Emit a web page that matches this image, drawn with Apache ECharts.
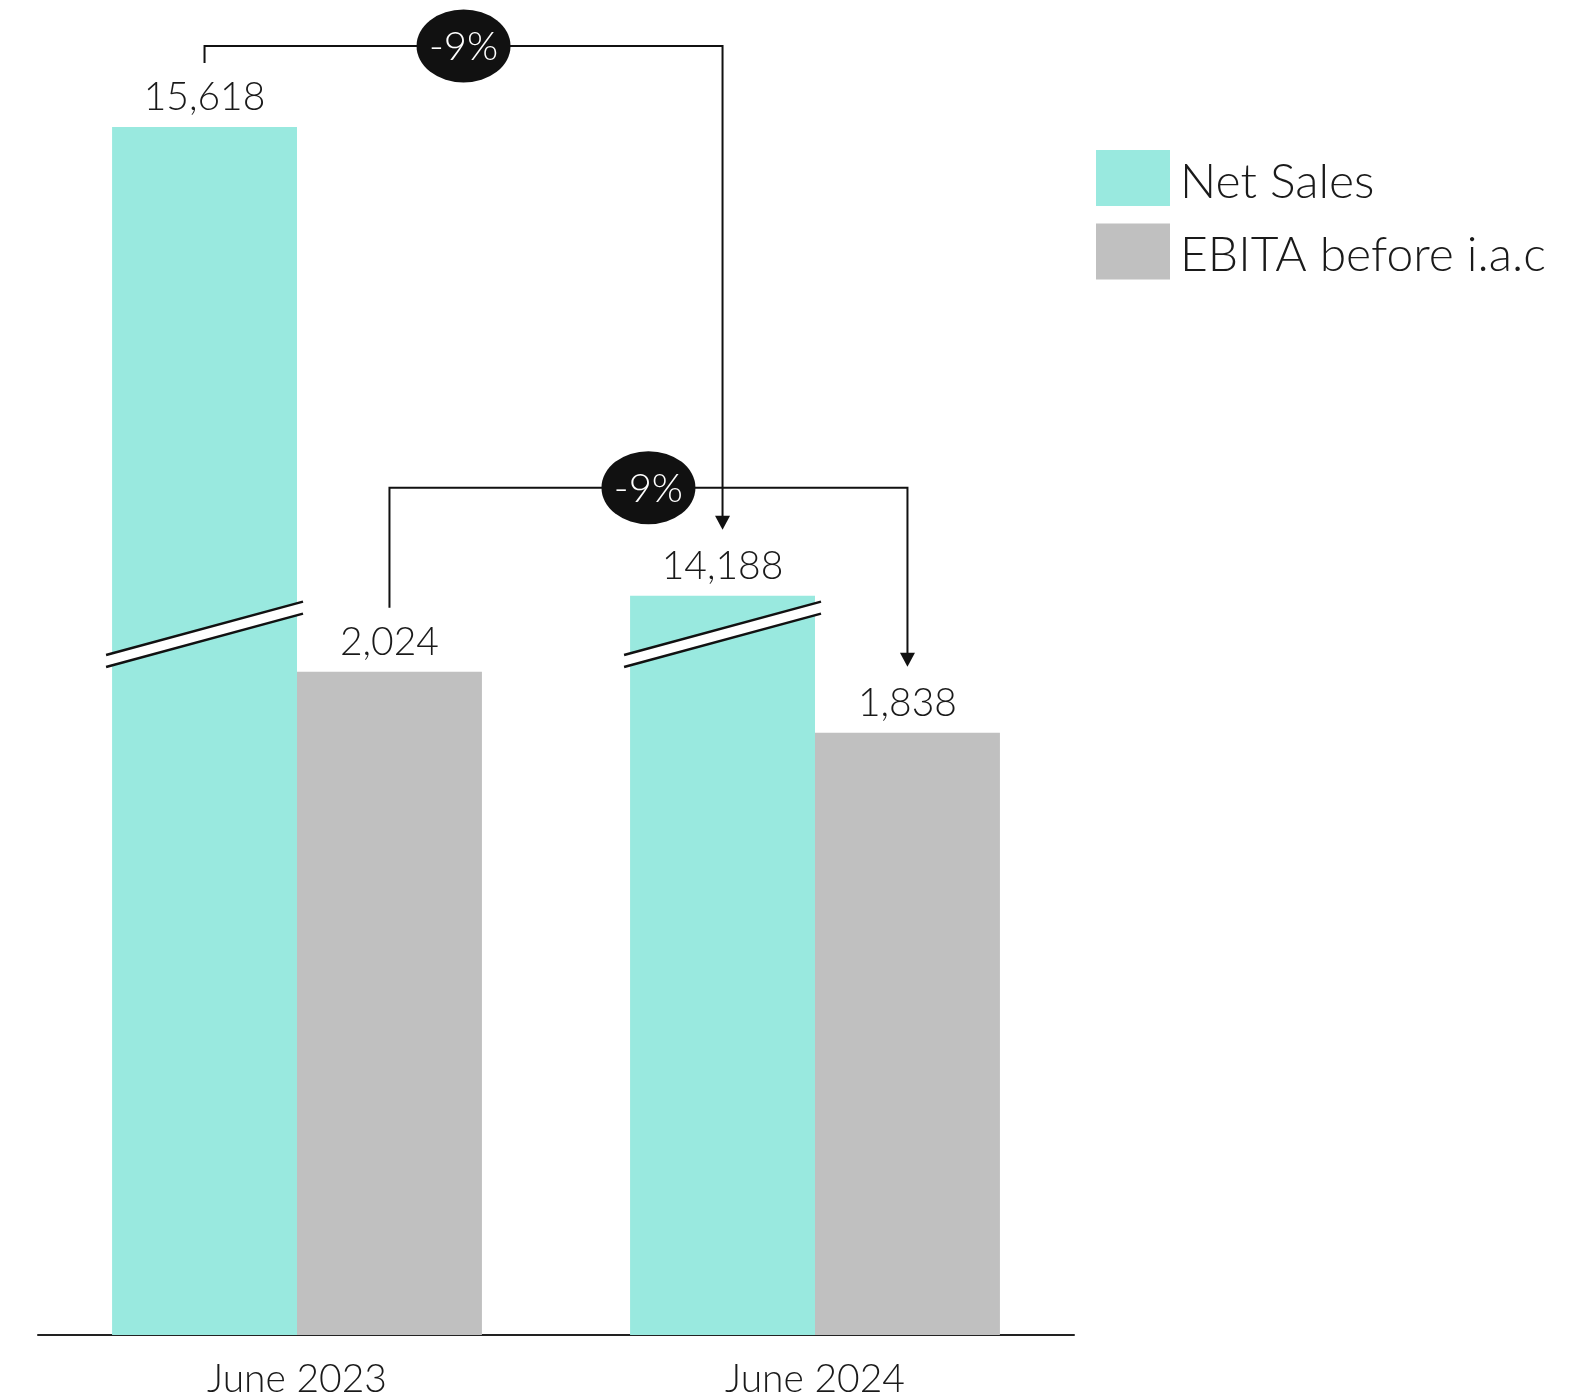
<!DOCTYPE html>
<html><head><meta charset="utf-8">
<script src="https://cdn.jsdelivr.net/npm/echarts@6/dist/echarts.min.js"></script>
<style>html,body{margin:0;padding:0;background:#fff}#c{width:1594px;height:1400px}</style>
</head><body><div id="c"></div>
<script>
const categories = ['June 2023', 'June 2024'];
const seriesNames = ['Net Sales', 'EBITA before i.a.c'];
const netSales = [15618, 14188];
const ebita = [2024, 1838];
const changeLabels = ['-9%', '-9%'];
const axisBreak = [2138, 14070];

const FONT = 'Lato';
const TEXT = '#1a1a1a';
const INK = '#111111';
const CAT_GAP = 0.286;
const COLORS = ['#99E9DF', '#C0C0C0'];
// annotation layout (pixel offsets)
const brackets = [{ series: 0, level: 81 }, { series: 1, level: 184 }];

function barCenter(api, catIdx, sIdx, val) {
  const p = api.coord([catIdx, val]);
  const band = api.size([1, 0])[0];
  const bw = band * (1 - CAT_GAP) / 2;
  return [p[0] + (sIdx === 0 ? -bw / 2 : bw / 2), p[1], bw];
}

const chart = echarts.init(document.getElementById('c'), null, { renderer: 'canvas' });
chart.setOption({
  animation: false,
  backgroundColor: '#fff',
  textStyle: { fontFamily: FONT },
  grid: { left: 38, right: 520, top: 127, bottom: 65, containLabel: false },
  legend: {
    data: seriesNames,
    orient: 'vertical',
    left: 1091, top: 145,
    icon: 'rect',
    itemWidth: 74, itemHeight: 56, itemGap: 17,
    selectedMode: false,
    formatter: name => '{t|' + name + '}',
    textStyle: {
      fontSize: 48, fontWeight: 300, color: TEXT, fontFamily: FONT, padding: [0, 0, 0, 5],
      rich: { t: { fontSize: 48, fontWeight: 300, color: TEXT, fontFamily: FONT, padding: [9, 0, 0, 0] } }
    }
  },
  xAxis: {
    type: 'category',
    data: categories,
    axisTick: { show: false },
    axisLine: { lineStyle: { color: '#222', width: 2 } },
    axisLabel: { fontSize: 39, fontWeight: 300, color: TEXT, margin: 25, fontFamily: FONT }
  },
  yAxis: {
    type: 'value',
    min: 0, max: netSales[0],
    show: false,
    splitLine: { show: false },
    breaks: [{ start: axisBreak[0], end: axisBreak[1], gap: 0 }],
    breakArea: { show: false }
  },
  series: [
    {
      name: seriesNames[0], type: 'bar', data: netSales,
      barGap: '0%', barCategoryGap: (CAT_GAP * 100) + '%',
      itemStyle: { color: COLORS[0] },
      label: { show: true, position: 'top', distance: 10, fontSize: 39, fontWeight: 300, color: TEXT, fontFamily: FONT,
        formatter: p => p.value.toLocaleString('en-US') }
    },
    {
      name: seriesNames[1], type: 'bar', data: ebita,
      barGap: '0%', barCategoryGap: (CAT_GAP * 100) + '%',
      itemStyle: { color: COLORS[1] },
      label: { show: true, position: 'top', distance: 10, fontSize: 39, fontWeight: 300, color: TEXT, fontFamily: FONT,
        formatter: p => p.value.toLocaleString('en-US') }
    },
    {
      type: 'custom', name: 'breakMarks', clip: false, z: 5,
      data: categories.map((c, i) => [i, axisBreak[0]]),
      renderItem(params, api) {
        const p = barCenter(api, params.dataIndex, 0, axisBreak[0]);
        const hw = p[2] / 2 + 6;
        const s = 0.2714;
        const sep = 6;
        const x1 = p[0] - hw, x2 = p[0] + hw;
        const yL = p[1] + s * hw, yR = p[1] - s * hw;
        return { type: 'group', children: [
          { type: 'polygon', shape: { points: [[x1, yL - sep], [x2, yR - sep], [x2, yR + sep], [x1, yL + sep]] }, style: { fill: '#fff' } },
          { type: 'line', shape: { x1: x1, y1: yL - sep, x2: x2, y2: yR - sep }, style: { stroke: INK, lineWidth: 2.5 } },
          { type: 'line', shape: { x1: x1, y1: yL + sep, x2: x2, y2: yR + sep }, style: { stroke: INK, lineWidth: 2.5 } }
        ] };
      }
    },
    {
      type: 'custom', name: 'brackets', clip: false, z: 6,
      data: brackets.map((b, i) => [i, 0]),
      renderItem(params, api) {
        const b = brackets[params.dataIndex];
        const vals = b.series === 0 ? netSales : ebita;
        const a = barCenter(api, 0, b.series, vals[0]);
        const c = barCenter(api, 1, b.series, vals[1]);
        const yLevel = a[1] - b.level;
        const yStart = a[1] - 64;
        const yEnd = c[1] - 66;
        const head = 14;
        const midX = (a[0] + c[0]) / 2;
        return { type: 'group', children: [
          { type: 'polyline', shape: { points: [[a[0], yStart], [a[0], yLevel], [c[0], yLevel], [c[0], yEnd - head + 1]] },
            style: { stroke: INK, lineWidth: 2, fill: null } },
          { type: 'polygon', shape: { points: [[c[0] - 7.5, yEnd - head], [c[0] + 7.5, yEnd - head], [c[0], yEnd]] }, style: { fill: INK } },
          { type: 'circle', x: midX, y: yLevel, scaleX: 47 / 36.5, shape: { cx: 0, cy: 0, r: 36.5 }, style: { fill: INK } },
          { type: 'text', x: midX, y: yLevel + 1, style: { text: changeLabels[params.dataIndex], fill: '#fff', fontSize: 40, fontWeight: 300, fontFamily: FONT, align: 'center', verticalAlign: 'middle' } }
        ] };
      }
    }
  ]
});
</script></body></html>
